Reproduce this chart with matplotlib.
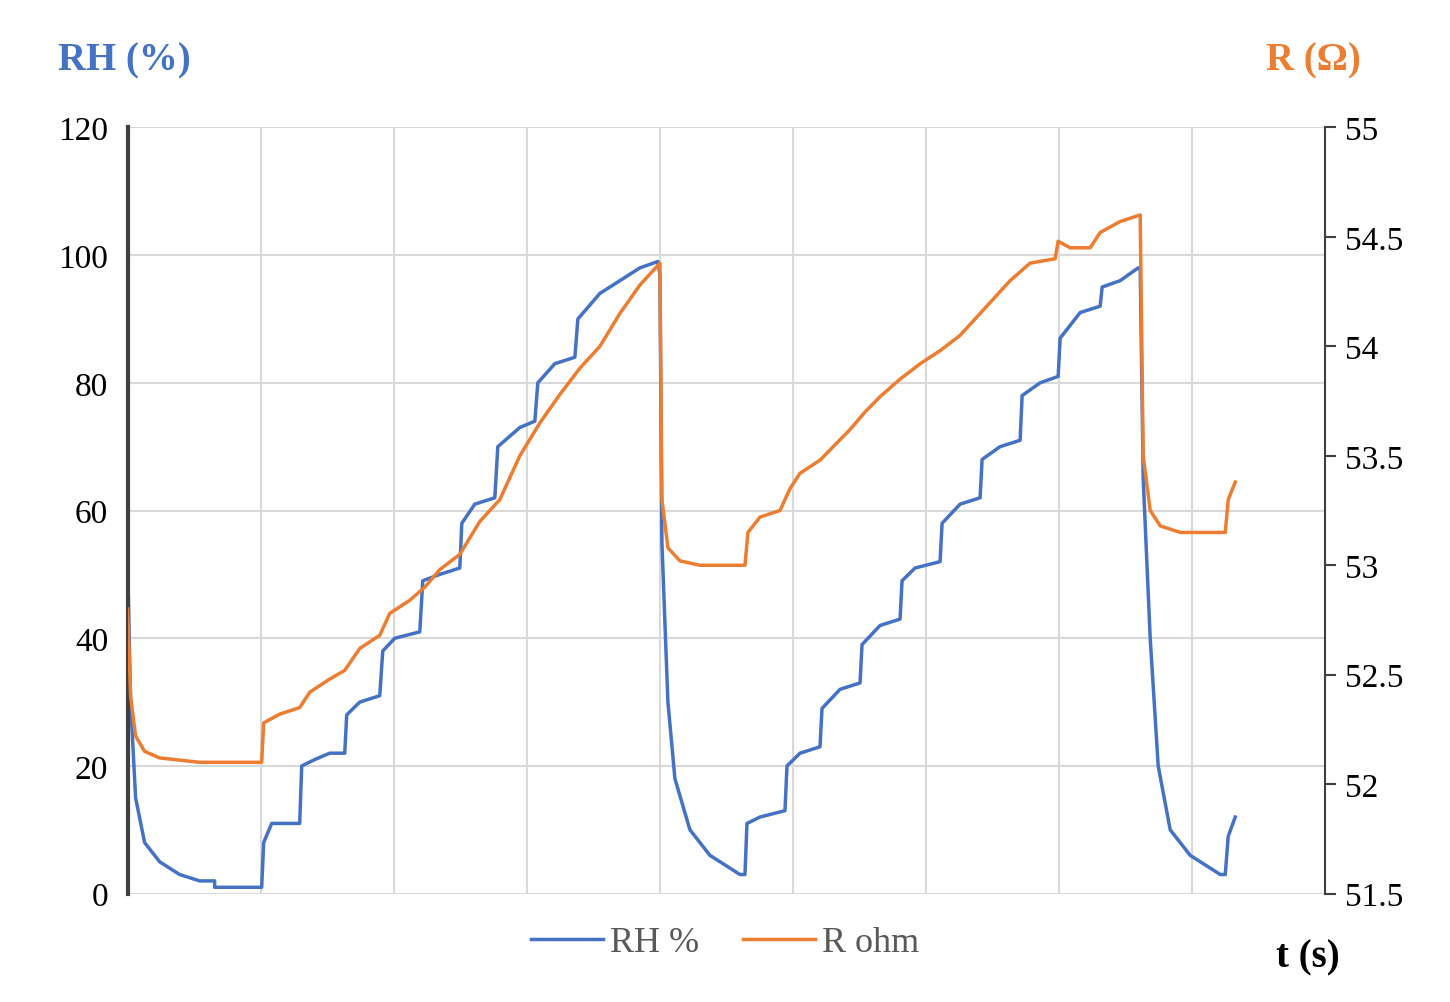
import numpy as np
import matplotlib
matplotlib.use('Agg')
from matplotlib import pyplot as plt

plt.rcParams['font.family'] = ['Liberation Serif', 'DejaVu Serif']

# time samples (arbitrary units, grid every 133)
t_rh = [128,131,136,145,160,180,200,215,215,262,264,272,300,302,315,330,345,347,360,380,383,395,420,423,440,460,462,475,495,498,520,535,538,555,575,578,600,620,640,658,660,662,668,675,690,710,730,740,745,747,760,785,787,800,820,822,840,860,862,880,900,902,915,940,942,960,980,982,1000,1020,1022,1040,1058,1060,1080,1100,1102,1120,1138,1140,1143,1150,1158,1170,1190,1210,1220,1225,1228,1235]
rh = [52,30,15,8,5,3,2,2,1,1,8,11,11,20,21,22,22,28,30,31,38,40,41,49,50,51,58,61,62,70,73,74,80,83,84,90,94,96,98,99,97,55,30,18,10,6,4,3,3,11,12,13,20,22,23,29,32,33,39,42,43,49,51,52,58,61,62,68,70,71,78,80,81,87,91,92,95,96,98,98,65,40,20,10,6,4,3,3,9,12]

t_r = [128,131,136,145,160,200,262,264,280,300,310,330,345,360,380,390,410,425,440,460,480,500,520,540,560,580,600,620,640,660,662,668,680,700,745,748,760,780,790,800,820,835,850,865,880,900,920,940,960,980,1000,1010,1030,1055,1058,1070,1090,1100,1120,1140,1143,1150,1160,1180,1225,1228,1235]
r_ohm = [52.8,52.4,52.22,52.15,52.12,52.1,52.1,52.28,52.32,52.35,52.42,52.48,52.52,52.62,52.68,52.78,52.84,52.9,52.98,53.05,53.2,53.3,53.5,53.65,53.78,53.9,54.0,54.15,54.28,54.38,53.3,53.08,53.02,53.0,53.0,53.15,53.22,53.25,53.35,53.42,53.48,53.55,53.62,53.7,53.77,53.85,53.92,53.98,54.05,54.15,54.25,54.3,54.38,54.4,54.48,54.45,54.45,54.52,54.57,54.6,53.5,53.25,53.18,53.15,53.15,53.3,53.38]

blue = '#4472C4'
orange = '#ED7D31'

fig = plt.figure(figsize=(14.5, 10.03), dpi=100)
ax = fig.add_axes([0.088, 0.108, 0.826, 0.764])
ax2 = ax.twinx()

t0 = 128
l1, = ax.plot(np.array(t_rh) - t0, rh, color=blue, lw=2.5, label='RH %')
l2, = ax2.plot(np.array(t_r) - t0, r_ohm, color=orange, lw=2.5, label='R ohm')

ax.set_xlim(0, 1197)
ax.set_ylim(0, 120)
ax2.set_ylim(51.5, 55)
ax.set_yticks(np.arange(0, 121, 20))
ax2.set_yticks(np.arange(51.5, 55.01, 0.5))
ax2.set_yticklabels(['51.5', '52', '52.5', '53', '53.5', '54', '54.5', '55'])
ax.set_xticks(np.arange(0, 1197, 133))
ax.set_xticklabels([])
ax.tick_params(axis='x', length=0)
ax.tick_params(axis='y', length=0, labelsize=24, pad=14)
ax2.tick_params(axis='y', labelsize=24, length=8, width=1.5, color='#404040', pad=6)
ax.grid(True, color='#d9d9d9', lw=1.5)

for s in ['top', 'bottom']:
    ax.spines[s].set_visible(False)
    ax2.spines[s].set_visible(False)
ax.spines['right'].set_visible(False)
ax.spines['left'].set_color('#404040')
ax.spines['left'].set_linewidth(3)
ax2.spines['left'].set_visible(False)
ax2.spines['right'].set_color('#404040')
ax2.spines['right'].set_linewidth(1.5)

fig.text(0.04, 0.93, 'RH (%)', color=blue, fontsize=28, fontweight='bold')
fig.text(0.873, 0.93, 'R (Ω)', color=orange, fontsize=28, fontweight='bold')
fig.text(0.88, 0.035, 't (s)', color='black', fontsize=28, fontweight='bold')
fig.legend(handles=[l1, l2], loc='lower center', bbox_to_anchor=(0.5, 0.01),
           ncol=2, frameon=False, fontsize=26, handlelength=2, columnspacing=1.2,
           handletextpad=0.2, labelcolor='#595959')

fig.savefig('out.png')
